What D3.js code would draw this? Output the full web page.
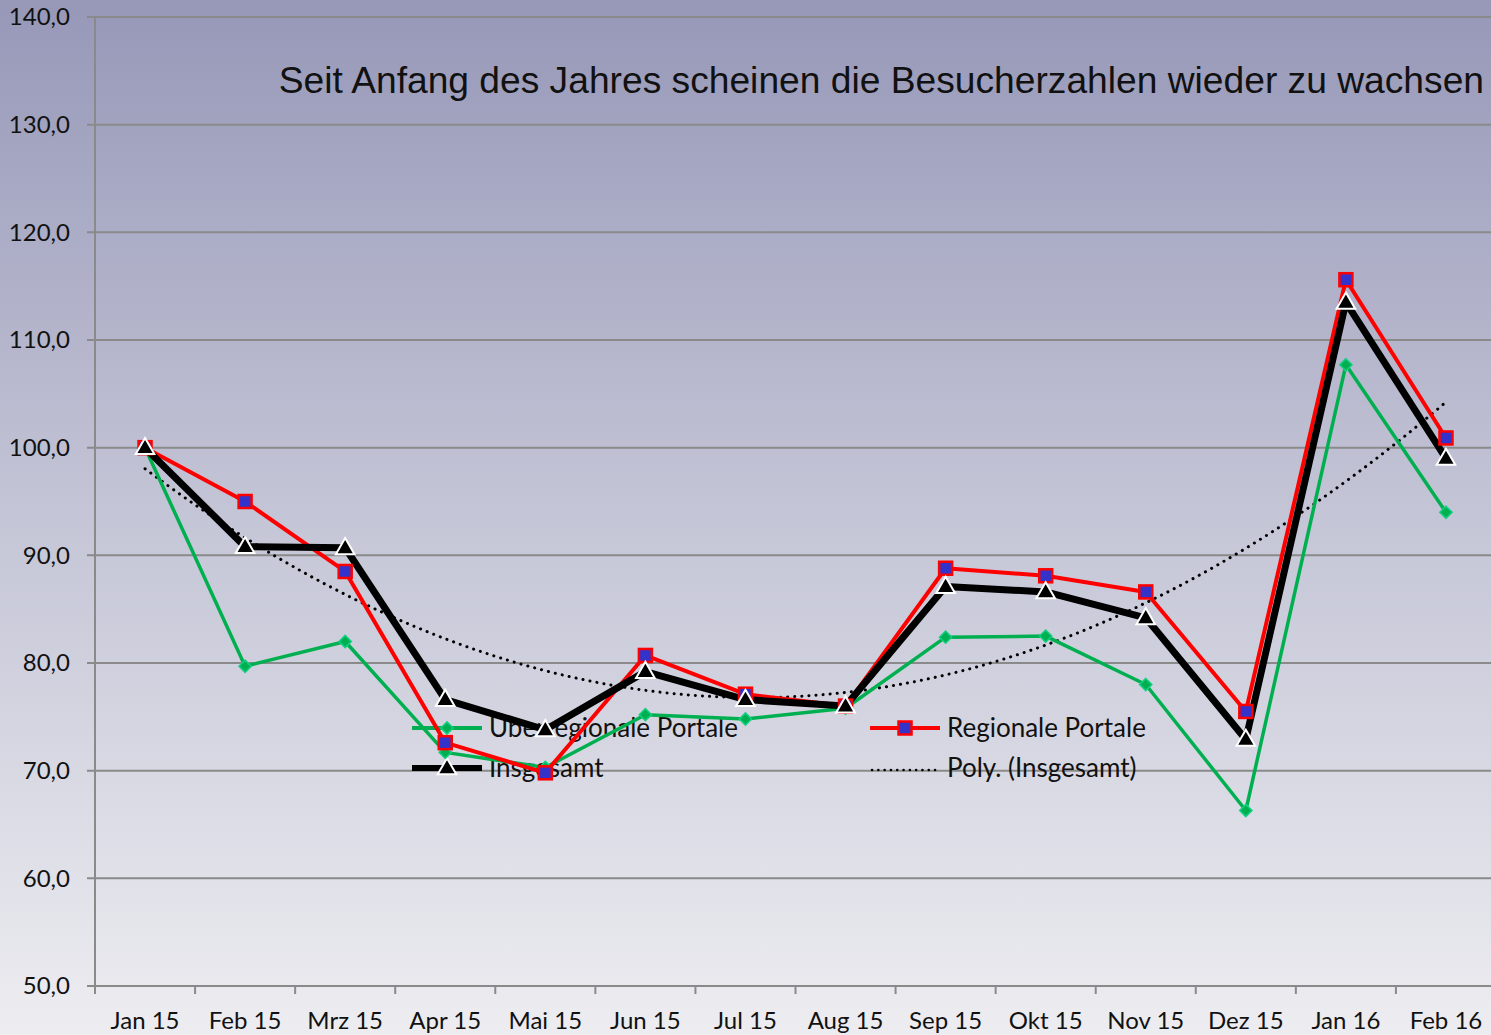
<!DOCTYPE html>
<html>
<head>
<meta charset="utf-8">
<script src="https://cdn.jsdelivr.net/npm/d3@7"></script>
<style>
  html, body { margin: 0; padding: 0; }
  text { font-family: Lato, "Open Sans", sans-serif; fill: #111; }
</style>
</head>
<body>
<div id="chart"></div>
<script>
const months = ["Jan 15", "Feb 15", "Mrz 15", "Apr 15", "Mai 15", "Jun 15", "Jul 15",
  "Aug 15", "Sep 15", "Okt 15", "Nov 15", "Dez 15", "Jan 16", "Feb 16"];
const ueberregional = [100, 79.7, 82.0, 71.7, 70.3, 75.2, 74.8, 75.8, 82.4, 82.5, 78.0, 66.3, 107.7, 94.0];
const regional = [100, 95.0, 88.5, 72.6, 69.8, 80.7, 77.1, 76.0, 88.8, 88.1, 86.6, 75.5, 115.6, 100.9];
const insgesamt = [100, 90.8, 90.7, 76.6, 73.8, 79.2, 76.6, 76.0, 87.1, 86.6, 84.2, 72.9, 113.5, 99.0];
const yTicks = [50, 60, 70, 80, 90, 100, 110, 120, 130, 140];
const title = "Seit Anfang des Jahres scheinen die Besucherzahlen wieder zu wachsen";

const width = 1491,
  height = 1035;
const margin = { left: 95, top: 17, right: -5, bottom: 49 };

const svg = d3
  .select("#chart")
  .append("svg")
  .attr("width", width)
  .attr("height", height);

// background gradient
const grad = svg.append("defs").append("linearGradient")
  .attr("id", "bg").attr("x1", 0).attr("y1", 0).attr("x2", 0).attr("y2", 1);
grad.append("stop").attr("offset", "0%").attr("stop-color", "#9798b8");
grad.append("stop").attr("offset", "50%").attr("stop-color", "#c4c5d6");
grad.append("stop").attr("offset", "100%").attr("stop-color", "#ededf1");
svg.append("rect").attr("width", width).attr("height", height).attr("fill", "url(#bg)");

const x = d3.scaleBand()
  .domain(months)
  .range([margin.left, width - margin.right]);
const y = d3.scaleLinear()
  .domain([50, 140])
  .range([height - margin.bottom, margin.top]);
const cx = (d) => x(d) + x.bandwidth() / 2;

// gridlines
svg.append("g")
  .selectAll("line")
  .data(yTicks)
  .join("line")
  .attr("x1", margin.left - 8)
  .attr("x2", width)
  .attr("y1", (d) => y(d))
  .attr("y2", (d) => y(d))
  .attr("stroke", "#8a8a8a")
  .attr("stroke-width", 2);

// y axis
svg.append("line")
  .attr("x1", margin.left).attr("x2", margin.left)
  .attr("y1", y(140)).attr("y2", y(50))
  .attr("stroke", "#8a8a8a").attr("stroke-width", 2);
svg.append("g")
  .selectAll("text")
  .data(yTicks)
  .join("text")
  .attr("x", 70)
  .attr("y", (d) => y(d))
  .attr("dy", "0.35em")
  .attr("text-anchor", "end")
  .style("font-size", "24px")
  .text((d) => d.toFixed(1).replace(".", ","));

// x axis ticks (between categories)
svg.append("g")
  .selectAll("line")
  .data(months)
  .join("line")
  .attr("x1", (d) => x(d))
  .attr("x2", (d) => x(d))
  .attr("y1", y(50))
  .attr("y2", y(50) + 8)
  .attr("stroke", "#8a8a8a")
  .attr("stroke-width", 2);
svg.append("g")
  .selectAll("text")
  .data(months)
  .join("text")
  .attr("x", cx)
  .attr("y", 1029)
  .attr("text-anchor", "middle")
  .style("font-size", "24px")
  .text((d) => d);

// title
svg.append("text")
  .attr("x", 1484)
  .attr("y", 93)
  .attr("text-anchor", "end")
  .style("font-family", "'Liberation Sans', Arial, sans-serif")
  .style("font-size", "37.2px")
  .text(title);

// quadratic trend for Insgesamt (least squares, like Excel's Poly. trendline)
function polyFit2(ys) {
  let s = [0, 0, 0, 0, 0], t = [0, 0, 0];
  ys.forEach((v, i) => {
    const xi = i + 1;
    for (let k = 0; k < 5; k++) s[k] += Math.pow(xi, k);
    for (let k = 0; k < 3; k++) t[k] += v * Math.pow(xi, k);
  });
  const m = [
    [s[0], s[1], s[2], t[0]],
    [s[1], s[2], s[3], t[1]],
    [s[2], s[3], s[4], t[2]],
  ];
  for (let i = 0; i < 3; i++) {
    for (let j = i + 1; j < 3; j++) {
      const f = m[j][i] / m[i][i];
      for (let k = i; k < 4; k++) m[j][k] -= f * m[i][k];
    }
  }
  const c = [0, 0, 0];
  for (let i = 2; i >= 0; i--) {
    let v = m[i][3];
    for (let k = i + 1; k < 3; k++) v -= m[i][k] * c[k];
    c[i] = v / m[i][i];
  }
  return (xi) => c[0] + c[1] * xi + c[2] * xi * xi;
}
const trendFn = polyFit2(insgesamt);
const trendPts = d3.range(0, 13.01, 0.1).map((t) => [
  cx(months[0]) + t * x.step(),
  trendFn(t + 1),
]);

// legend (drawn behind the series)
const legend = svg.append("g");
const legendItems = [
  { label: "Überregionale Portale", col: 0, row: 0, type: "green" },
  { label: "Regionale Portale", col: 1, row: 0, type: "red" },
  { label: "Insgesamt", col: 0, row: 1, type: "black" },
  { label: "Poly. (Insgesamt)", col: 1, row: 1, type: "trend" },
];
const legendX = [412, 870];
const legendY = [728, 768];

const styles = {
  green: { color: "#00b050", width: 3.5 },
  red: { color: "#ff0000", width: 4 },
  black: { color: "#000000", width: 7 },
};

function drawMarker(g, type, px, py) {
  if (type === "green") {
    g.append("path")
      .attr("d", d3.symbol(d3.symbolDiamond2, 95)())
      .attr("transform", `translate(${px},${py})`)
      .attr("fill", "#00b050")
      .attr("stroke", "#10d080")
      .attr("stroke-width", 1.5);
  } else if (type === "red") {
    g.append("rect")
      .attr("x", px - 6.5).attr("y", py - 6.5)
      .attr("width", 13).attr("height", 13)
      .attr("fill", "#3333cc")
      .attr("stroke", "#ff0000")
      .attr("stroke-width", 2.5);
  } else if (type === "black") {
    g.append("path")
      .attr("d", d3.symbol(d3.symbolTriangle, 150)())
      .attr("transform", `translate(${px},${py + 1})`)
      .attr("fill", "#000")
      .attr("stroke", "#fff")
      .attr("stroke-width", 2);
  }
}

legendItems.forEach((it) => {
  const lx = legendX[it.col], ly = legendY[it.row];
  if (it.type === "trend") {
    legend.append("line")
      .attr("x1", lx + 2).attr("x2", lx + 70)
      .attr("y1", ly + 2).attr("y2", ly + 2)
      .attr("stroke", "#000").attr("stroke-width", 2.5)
      .attr("stroke-dasharray", "0.1,6.2").attr("stroke-linecap", "round");
  } else {
    legend.append("line")
      .attr("x1", lx).attr("x2", lx + 70)
      .attr("y1", ly).attr("y2", ly)
      .attr("stroke", styles[it.type].color)
      .attr("stroke-width", it.type === "black" ? 6 : 4);
    drawMarker(legend, it.type, lx + 35, ly);
  }
  legend.append("text")
    .attr("x", lx + 77)
    .attr("y", ly)
    .attr("dy", "0.36em")
    .style("font-size", "26px")
    .text(it.label);
});

// trend line
svg.append("path")
  .datum(trendPts)
  .attr("d", d3.line().x((d) => d[0]).y((d) => y(d[1])))
  .attr("fill", "none")
  .attr("stroke", "#000")
  .attr("stroke-width", 3)
  .attr("stroke-dasharray", "0.1,7")
  .attr("stroke-linecap", "round");

// series
const series = [
  { type: "green", values: ueberregional },
  { type: "red", values: regional },
  { type: "black", values: insgesamt },
];
const line = d3.line()
  .x((d, i) => cx(months[i]))
  .y((d) => y(d));

series.forEach((s) => {
  svg.append("path")
    .datum(s.values)
    .attr("d", line)
    .attr("fill", "none")
    .attr("stroke", styles[s.type].color)
    .attr("stroke-width", styles[s.type].width)
    .attr("stroke-linejoin", "round");
});
series.forEach((s) => {
  const g = svg.append("g");
  s.values.forEach((v, i) => drawMarker(g, s.type, cx(months[i]), y(v)));
});
</script>
</body>
</html>
